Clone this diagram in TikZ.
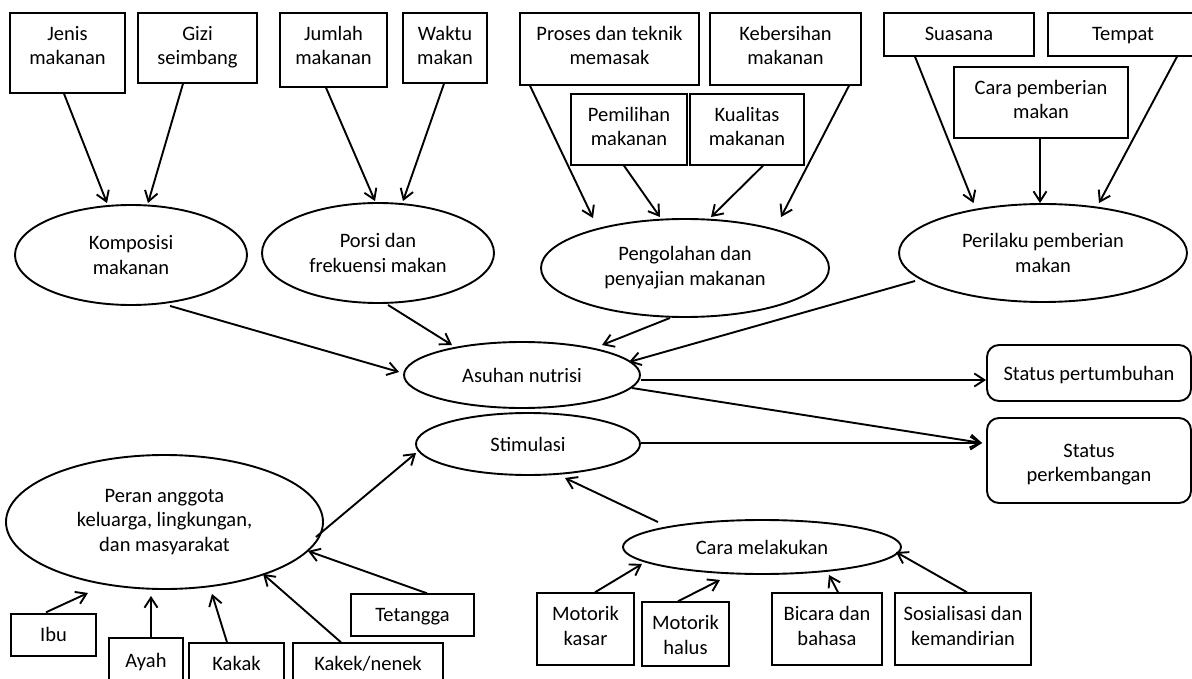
\documentclass[tikz,border=0pt]{standalone}
\usepackage{fontspec}
\setmainfont{Carlito}
\usetikzlibrary{arrows.meta,calc,shapes.geometric}
\newcommand\boxtext[4][27.5pt]{\parbox[c][#3][t]{#2}{\centering\rule{0pt}{#1}#4\par}}
\begin{document}
\begin{tikzpicture}[x=1pt,y=-1pt,
  every node/.style={font=\fontsize{20.5}{24.5}\selectfont, inner sep=0pt},
  box/.style={draw, line width=1.4pt, rectangle},
  ell/.style={draw, line width=1.9pt, ellipse, align=center},
  rbox/.style={draw, line width=1.9pt, rectangle, rounded corners=12pt},
  arr/.style={line width=1.9pt, -{Straight Barb[length=10pt,width=13pt]}}]
\useasboundingbox (0,0) rectangle (1192,679);
\fill[white] (0,0) rectangle (1192,679);

% top boxes
\node[box] (jenis) at (67.5,53) {\boxtext{115pt}{80pt}{Jenis\\makanan}};
\node[box] (gizi) at (197.5,48) {\boxtext{119pt}{70pt}{Gizi\\seimbang}};
\node[box] (jumlah) at (333.5,50) {\boxtext{107pt}{74pt}{Jumlah\\makanan}};
\node[box] (waktu) at (445,48) {\boxtext{84pt}{70pt}{Waktu\\makan}};
\node[box] (proses) at (609.5,49) {\boxtext{179pt}{72pt}{Proses dan teknik\\memasak}};
\node[box] (kebersihan) at (785.5,49) {\boxtext{151pt}{72pt}{Kebersihan\\makanan}};
\node[box] (pemilihan) at (629,129.5) {\boxtext{116pt}{71pt}{Pemilihan\\makanan}};
\node[box] (kualitas) at (747,129.5) {\boxtext{114pt}{71pt}{Kualitas\\makanan}};
\node[box] (suasana) at (959,34.5) {\boxtext{150pt}{43pt}{Suasana}};
\node[box] (tempat) at (1123,34.5) {\boxtext{150pt}{43pt}{Tempat}};
\node[box] (carapemb) at (1041,102.5) {\boxtext{174pt}{71pt}{Cara pemberian\\makan}};

% ellipses
\node[ell, minimum width=232pt, minimum height=100pt] (komp) at (131,255) {Komposisi\\makanan};
\node[ell, minimum width=232pt, minimum height=100pt] (porsi) at (378,253) {Porsi dan\\frekuensi makan};
\node[ell, minimum width=288pt, minimum height=98pt] (peng) at (685,268) {\raisebox{-3pt}{\begin{tabular}{@{}c@{}}Pengolahan dan\\penyajian makanan\end{tabular}}};
\node[ell, minimum width=288pt, minimum height=98pt] (peril) at (1043,253) {Perilaku pemberian\\makan};
\node[ell, minimum width=236pt, minimum height=66pt] (asuhan) at (522,375) {Asuhan nutrisi};
\node[ell, minimum width=224pt, minimum height=62pt] (stim) at (528,444) {Stimulasi};
\node[ell, minimum width=317pt, minimum height=134pt] (peran) at (164.5,522) {Peran anggota\\keluarga, lingkungan,\\dan masyarakat};
\node[ell, minimum width=278pt, minimum height=54pt] (caramel) at (762,547) {Cara melakukan};

% status boxes
\node[rbox] (statpert) at (1089,373) {\boxtext[35pt]{204pt}{56pt}{Status pertumbuhan}};
\node[rbox] (statperk) at (1089,460.5) {\boxtext[39pt]{204pt}{85pt}{Status\\perkembangan}};

% bottom boxes
\node[box] (ibu) at (53.5,635) {\boxtext{85pt}{42pt}{Ibu}};
\node[box] (ayah) at (146,664) {\boxtext[29.5pt]{74pt}{52pt}{Ayah}};
\node[box] (kakak) at (236.5,664) {\boxtext{95pt}{42pt}{Kakak}};
\node[box] (kakek) at (368,664) {\boxtext{150pt}{42pt}{Kakek/nenek}};
\node[box] (tetangga) at (412.5,615) {\boxtext{123pt}{42pt}{Tetangga}};
\node[box] (motkasar) at (585.5,629) {\boxtext{97pt}{72pt}{Motorik\\kasar}};
\node[box] (mothalus) at (685.5,634) {\boxtext{87pt}{64pt}{Motorik\\halus}};
\node[box] (bicara) at (827,629) {\boxtext{110pt}{72pt}{Bicara dan\\bahasa}};
\node[box] (sosial) at (963,629) {\boxtext{136pt}{72pt}{Sosialisasi dan\\kemandirian}};

% arrows top
\draw[arr] ($(jenis.south)+(-3.5,0)$) -- ($(komp.north)+(-24,-1)$);
\draw[arr] ($(gizi.south)+(-14.5,0)$) -- ($(komp.north)+(17,-1)$);
\draw[arr] ($(jumlah.south)+(-7.5,0)$) -- ($(porsi.north)+(-3,-1)$);
\draw[arr] ($(waktu.south)+(-1,0)$) -- ($(porsi.north)+(25,-1)$);
\draw[arr] ($(proses.south)+(-79.5,0)$) -- ($(peng.north)+(-92,0)$);
\draw[arr] ($(pemilihan.south)+(-5,0)$) -- ($(peng.north)+(-25,-1)$);
\draw[arr] ($(kualitas.south)+(16,0)$) -- ($(peng.north)+(26,-1)$);
\draw[arr] ($(kebersihan.south)+(63.5,0)$) -- ($(peng.north)+(96,-1)$);
\draw[arr] ($(suasana.south)+(-44,0)$) -- ($(peril.north)+(-69.5,0)$);
\draw[arr] ($(carapemb.south)+(-1,0)$) -- ($(peril.north)+(-3,0)$);
\draw[arr] ($(tempat.south)+(54,0)$) -- ($(peril.north)+(56,0)$);

% into asuhan
\draw[arr] ($(komp.south)+(39,0)$) -- ($(asuhan.west)+(-4,-3)$);
\draw[arr] ($(porsi.south)+(10,1)$) -- ($(asuhan.north)+(-70,4)$);
\draw[arr] ($(peng.south)+(-15,0)$) -- ($(asuhan.north)+(80,4)$);
\draw[arr] ($(peril.center)+(-128,28)$) -- ($(asuhan.east)+(-12,-13)$);

% outputs
\draw[arr] ($(asuhan.east)+(0,5)$) -- ($(statpert.west)+(0,7)$);
\draw[arr] ($(asuhan.east)+(-9,13)$) -- ($(statperk.west)+(-4,-17.5)$);
\draw[arr] ($(stim.east)+(0,-1)$) -- ($(statperk.west)+(-4,-17.5)$);

% into stimulasi
\draw[arr] ($(peran.east)+(-8,15)$) -- ($(stim.west)+(1,9)$);
\draw[arr] ($(caramel.north)+(-104,3)$) -- ($(stim.south)+(37,2)$);

% into peran
\draw[arr] ($(ibu.north)+(-7.5,-1)$) -- ($(peran.south)+(-76.5,3)$);
\draw[arr] ($(ayah.north)+(5,0)$) -- ($(peran.south)+(-13.5,6)$);
\draw[arr] ($(kakak.north)+(-9.5,0)$) -- ($(peran.south)+(47.5,4)$);
\draw[arr] ($(kakek.north)+(-27,0)$) -- ($(peran.south)+(98.5,-16)$);
\draw[arr] ($(tetangga.north)+(14.5,0)$) -- ($(peran.east)+(-16,29)$);

% into cara melakukan
\draw[arr] ($(motkasar.north)+(9.5,0)$) -- ($(caramel.south)+(-120,-11)$);
\draw[arr] ($(mothalus.north)+(-7.5,0)$) -- ($(caramel.south)+(-42,5)$);
\draw[arr] ($(bicara.north)+(11,0)$) -- ($(caramel.south)+(67,0)$);
\draw[arr] ($(sosial.north)+(4,0)$) -- ($(caramel.east)+(-6,5)$);
\end{tikzpicture}
\end{document}
